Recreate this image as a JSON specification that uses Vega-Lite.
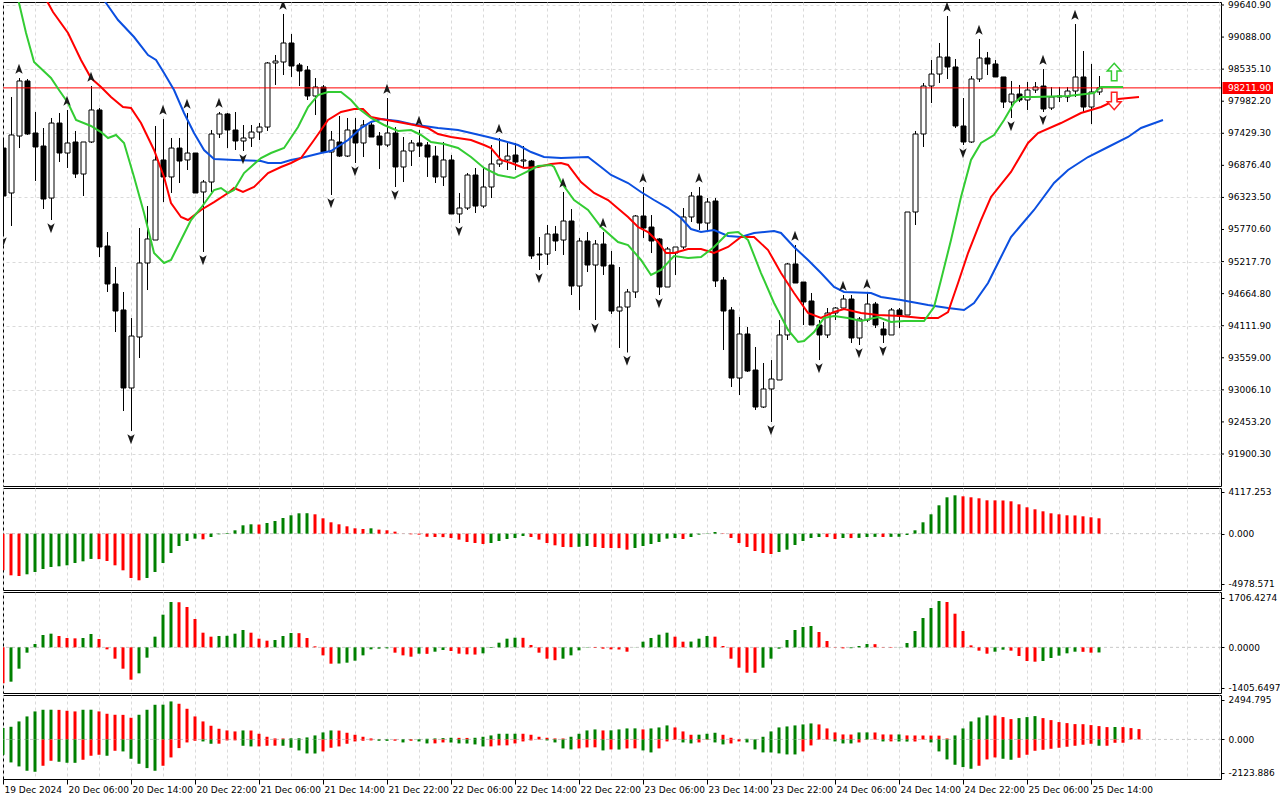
{
  "$schema": "https://vega.github.io/schema/vega-lite/v6.json",
  "background": "white",
  "padding": {"left": 2, "top": 0, "right": 0, "bottom": 0},
  "spacing": 0,
  "config": {
    "view": {"stroke": "black", "strokeWidth": 1},
    "axis": {"labelFont": "DejaVu Sans", "labelFontSize": 9, "labelColor": "#000000", "tickColor": "#000000", "domain": false, "gridColor": "#dadada", "gridDash": [3, 3], "labelOverlap": false},
    "text": {"font": "DejaVu Sans", "fontSize": 9}
  },
  "datasets": {
    "levels": [
      {"p":99640.9},{"p":99088},{"p":98535.1},{"p":97982.2},{"p":97429.3},{"p":96876.4},{"p":96323.5},{"p":95770.6},
      {"p":95217.7},{"p":94664.8},{"p":94111.9},{"p":93559},{"p":93006.1},{"p":92453.2},{"p":91900.3}
    ],
    "candles": [
      {"k":0,"o":97175,"h":97313,"l":95693,"c":96348},{"k":1,"o":96400,"h":98055,"l":95831,"c":97400},{"k":2,"o":97382,"h":98382,"l":97175,"c":98331},{"k":3,"o":98331,"h":98365,"l":97400,"c":97417},
      {"k":4,"o":97434,"h":97796,"l":96607,"c":97193},{"k":5,"o":97210,"h":97520,"l":96124,"c":96296},{"k":6,"o":96313,"h":97693,"l":95934,"c":97606},{"k":7,"o":97606,"h":97779,"l":96934,"c":97089},
      {"k":8,"o":97089,"h":97831,"l":96831,"c":97262},{"k":9,"o":97279,"h":97469,"l":96658,"c":96727},{"k":10,"o":96727,"h":97279,"l":96348,"c":97279},{"k":11,"o":97279,"h":98244,"l":97262,"c":97831},
      {"k":12,"o":97831,"h":97865,"l":95296,"c":95469},{"k":13,"o":95486,"h":95727,"l":94693,"c":94831},{"k":14,"o":94831,"h":95124,"l":94003,"c":94365},{"k":15,"o":94383,"h":94693,"l":92641,"c":93038},
      {"k":16,"o":93038,"h":94244,"l":92297,"c":93934},{"k":17,"o":93917,"h":95796,"l":93555,"c":95193},{"k":18,"o":95193,"h":96175,"l":94727,"c":95607},{"k":19,"o":95589,"h":97555,"l":95589,"c":96969},
      {"k":20,"o":96969,"h":97675,"l":96244,"c":96676},{"k":21,"o":96676,"h":97348,"l":96400,"c":97175},{"k":22,"o":97175,"h":97348,"l":96572,"c":96951},{"k":23,"o":96969,"h":97779,"l":96796,"c":97089},
      {"k":24,"o":97089,"h":97089,"l":96400,"c":96400},{"k":25,"o":96417,"h":96624,"l":95383,"c":96589},{"k":26,"o":96589,"h":97486,"l":96417,"c":97417},{"k":27,"o":97417,"h":97796,"l":97348,"c":97762},
      {"k":28,"o":97762,"h":97779,"l":97175,"c":97486},{"k":29,"o":97486,"h":97796,"l":97141,"c":97296},{"k":30,"o":97296,"h":97572,"l":97124,"c":97348},{"k":31,"o":97348,"h":97572,"l":97193,"c":97451},
      {"k":32,"o":97451,"h":97606,"l":97313,"c":97537},{"k":33,"o":97537,"h":98658,"l":97469,"c":98641},{"k":34,"o":98641,"h":98779,"l":98262,"c":98675},{"k":35,"o":98658,"h":99486,"l":98434,"c":98986},
      {"k":36,"o":98986,"h":99141,"l":98400,"c":98589},{"k":37,"o":98606,"h":98641,"l":98244,"c":98503},{"k":38,"o":98520,"h":98589,"l":98003,"c":98072},{"k":39,"o":98072,"h":98382,"l":97744,"c":98227},
      {"k":40,"o":98227,"h":98262,"l":97106,"c":97106},{"k":41,"o":97106,"h":97469,"l":96365,"c":97313},{"k":42,"o":97279,"h":97727,"l":97020,"c":97037},{"k":43,"o":97037,"h":97693,"l":97020,"c":97486},
      {"k":44,"o":97486,"h":97693,"l":96917,"c":97262},{"k":45,"o":97262,"h":97658,"l":97020,"c":97572},{"k":46,"o":97572,"h":97624,"l":97365,"c":97365},{"k":47,"o":97382,"h":97451,"l":96814,"c":97227},
      {"k":48,"o":97227,"h":98037,"l":97193,"c":97434},{"k":49,"o":97434,"h":97537,"l":96503,"c":96848},{"k":50,"o":96848,"h":97365,"l":96589,"c":97124},{"k":51,"o":97124,"h":97313,"l":96865,"c":97262},
      {"k":52,"o":97262,"h":97486,"l":97020,"c":97210},{"k":53,"o":97227,"h":97279,"l":96676,"c":97020},{"k":54,"o":97037,"h":97210,"l":96572,"c":96676},{"k":55,"o":96676,"h":97279,"l":96520,"c":96969},
      {"k":56,"o":96969,"h":97055,"l":96038,"c":96038},{"k":57,"o":96038,"h":96400,"l":95882,"c":96141},{"k":58,"o":96141,"h":96744,"l":96107,"c":96710},{"k":59,"o":96710,"h":96831,"l":96055,"c":96175},
      {"k":60,"o":96175,"h":96848,"l":96141,"c":96503},{"k":61,"o":96503,"h":97227,"l":96313,"c":96900},{"k":62,"o":96900,"h":97348,"l":96848,"c":96969},{"k":63,"o":96969,"h":97279,"l":96796,"c":97037},
      {"k":64,"o":97055,"h":97262,"l":96796,"c":96934},{"k":65,"o":96951,"h":97210,"l":96831,"c":96969},{"k":66,"o":96951,"h":96969,"l":95262,"c":95314},{"k":67,"o":95348,"h":95641,"l":95072,"c":95331},
      {"k":68,"o":95348,"h":95848,"l":95158,"c":95693},{"k":69,"o":95693,"h":95831,"l":95400,"c":95572},{"k":70,"o":95589,"h":96417,"l":95331,"c":95917},{"k":71,"o":95917,"h":96124,"l":94641,"c":94796},
      {"k":72,"o":94796,"h":95624,"l":94383,"c":95572},{"k":73,"o":95572,"h":95727,"l":95038,"c":95158},{"k":74,"o":95158,"h":95589,"l":94210,"c":95520},{"k":75,"o":95520,"h":95727,"l":94986,"c":95141},
      {"k":76,"o":95158,"h":95400,"l":94314,"c":94365},{"k":77,"o":94365,"h":95124,"l":93728,"c":94434},{"k":78,"o":94434,"h":94745,"l":93650,"c":94693},{"k":79,"o":94693,"h":96020,"l":94590,"c":96003},
      {"k":80,"o":96003,"h":96503,"l":95624,"c":95796},{"k":81,"o":95813,"h":96020,"l":95365,"c":95572},{"k":82,"o":95607,"h":95624,"l":94641,"c":94779},{"k":83,"o":94779,"h":95469,"l":94779,"c":95434},
      {"k":84,"o":95365,"h":95469,"l":94986,"c":95469},{"k":85,"o":95469,"h":96141,"l":95434,"c":95986},{"k":86,"o":95986,"h":96417,"l":95900,"c":96348},{"k":87,"o":96348,"h":96503,"l":95762,"c":95882},
      {"k":88,"o":95882,"h":96313,"l":95762,"c":96244},{"k":89,"o":96262,"h":96313,"l":94779,"c":94883},{"k":90,"o":94900,"h":94951,"l":93693,"c":94365},{"k":91,"o":94383,"h":94434,"l":93055,"c":93210},
      {"k":92,"o":93210,"h":94262,"l":92917,"c":93969},{"k":93,"o":93969,"h":94090,"l":93314,"c":93331},{"k":94,"o":93348,"h":93745,"l":92659,"c":92710},{"k":95,"o":92710,"h":93469,"l":92693,"c":93021},
      {"k":96,"o":93021,"h":93520,"l":92452,"c":93193},{"k":97,"o":93176,"h":94210,"l":93176,"c":93952},{"k":98,"o":93952,"h":95193,"l":93865,"c":95176},{"k":99,"o":95176,"h":95503,"l":94848,"c":94848},
      {"k":100,"o":94865,"h":94865,"l":94124,"c":94521},{"k":101,"o":94538,"h":94676,"l":94124,"c":94124},{"k":102,"o":94124,"h":94210,"l":93520,"c":93952},{"k":103,"o":93952,"h":94417,"l":93900,"c":94331},
      {"k":104,"o":94331,"h":94434,"l":94210,"c":94417},{"k":105,"o":94417,"h":94641,"l":94383,"c":94572},{"k":106,"o":94572,"h":94641,"l":93814,"c":93900},{"k":107,"o":93900,"h":94262,"l":93779,"c":94227},
      {"k":108,"o":94210,"h":94676,"l":94176,"c":94486},{"k":109,"o":94486,"h":94521,"l":94072,"c":94124},{"k":110,"o":94055,"h":94176,"l":93814,"c":93952},{"k":111,"o":93952,"h":94417,"l":93952,"c":94383},
      {"k":112,"o":94383,"h":94417,"l":94072,"c":94279},{"k":113,"o":94296,"h":96072,"l":94296,"c":96072},{"k":114,"o":96072,"h":97469,"l":95848,"c":97417},{"k":115,"o":97417,"h":98296,"l":97193,"c":98244},
      {"k":116,"o":98244,"h":98693,"l":97951,"c":98451},{"k":117,"o":98451,"h":98986,"l":98296,"c":98744},{"k":118,"o":98744,"h":99451,"l":98365,"c":98572},{"k":119,"o":98572,"h":98710,"l":97520,"c":97555},
      {"k":120,"o":97555,"h":98037,"l":97227,"c":97279},{"k":121,"o":97279,"h":98417,"l":97262,"c":98365},{"k":122,"o":98365,"h":99055,"l":98313,"c":98727},{"k":123,"o":98727,"h":98831,"l":98434,"c":98624},
      {"k":124,"o":98624,"h":98693,"l":98400,"c":98400},{"k":125,"o":98400,"h":98400,"l":97865,"c":97968},{"k":126,"o":97968,"h":98331,"l":97693,"c":98106},{"k":127,"o":98106,"h":98262,"l":97968,"c":98003},
      {"k":128,"o":98003,"h":98313,"l":97831,"c":98175},{"k":129,"o":98175,"h":98313,"l":98124,"c":98227},{"k":130,"o":98244,"h":98537,"l":97796,"c":97848},{"k":131,"o":97865,"h":98227,"l":97831,"c":98055},
      {"k":132,"o":98055,"h":98227,"l":97968,"c":98072},{"k":133,"o":98055,"h":98227,"l":97968,"c":98158},{"k":134,"o":98158,"h":99313,"l":98055,"c":98400},{"k":135,"o":98400,"h":98848,"l":97779,"c":97882},
      {"k":136,"o":97882,"h":98624,"l":97589,"c":98141},{"k":137,"o":98141,"h":98417,"l":98089,"c":98211.9}
    ],
    "jaw": [
      {"k":12,"v":99848},{"k":12.88,"v":99675},{"k":14.38,"v":99382},{"k":16.38,"v":99089},{"k":18.13,"v":98779},{"k":19.13,"v":98693},{"k":20.13,"v":98469},{"k":21.38,"v":98175},
      {"k":22.63,"v":97779},{"k":23.88,"v":97434},{"k":25.13,"v":97141},{"k":26.38,"v":96986},{"k":28.88,"v":96969},{"k":32.25,"v":96951},{"k":33.13,"v":96917},{"k":34.75,"v":96917},
      {"k":36,"v":96969},{"k":37.25,"v":97003},{"k":39.75,"v":97089},{"k":41,"v":97124},{"k":43.13,"v":97313},{"k":44.75,"v":97520},{"k":46,"v":97624},{"k":47.25,"v":97675},
      {"k":49.38,"v":97641},{"k":51,"v":97589},{"k":52.63,"v":97555},{"k":54.38,"v":97520},{"k":56.88,"v":97486},{"k":58.5,"v":97434},{"k":60.63,"v":97365},{"k":62.63,"v":97296},
      {"k":64.38,"v":97227},{"k":66,"v":97106},{"k":67.63,"v":97020},{"k":69.75,"v":97003},{"k":73.13,"v":97020},{"k":74.75,"v":96848},{"k":76,"v":96710},{"k":78.13,"v":96572},
      {"k":79.75,"v":96417},{"k":81.38,"v":96279},{"k":83.13,"v":96141},{"k":84.75,"v":95969},{"k":86,"v":95779},{"k":87.25,"v":95727},{"k":88.88,"v":95762},{"k":90.63,"v":95658},
      {"k":92.25,"v":95641},{"k":93.88,"v":95710},{"k":96.38,"v":95744},{"k":97.25,"v":95710},{"k":98.88,"v":95469},{"k":100.63,"v":95245},{"k":102.25,"v":95020},{"k":103.88,"v":94779},
      {"k":105.13,"v":94693},{"k":108.5,"v":94676},{"k":109.75,"v":94607},{"k":112.25,"v":94555},{"k":115.63,"v":94469},{"k":118.13,"v":94417},{"k":120.13,"v":94383},{"k":121.38,"v":94503},
      {"k":123.13,"v":94848},{"k":124.75,"v":95296},{"k":126,"v":95641},{"k":128.88,"v":96107},{"k":131.38,"v":96572},{"k":133.13,"v":96796},{"k":135.63,"v":97020},{"k":138.13,"v":97193},
      {"k":140.63,"v":97365},{"k":142.25,"v":97520},{"k":145,"v":97658}
    ],
    "teeth": [
      {"k":5.25,"v":99779},{"k":5.63,"v":99675},{"k":6.25,"v":99520},{"k":8.13,"v":99158},{"k":9.75,"v":98693},{"k":11,"v":98382},{"k":12.25,"v":98227},{"k":13.5,"v":98055},
      {"k":15,"v":97882},{"k":16,"v":97865},{"k":17.25,"v":97606},{"k":18.88,"v":97141},{"k":20.13,"v":96676},{"k":21,"v":96227},{"k":22.25,"v":95986},{"k":23.13,"v":95934},
      {"k":24.75,"v":96107},{"k":26.38,"v":96244},{"k":28.13,"v":96400},{"k":28.88,"v":96486},{"k":30,"v":96417},{"k":31.38,"v":96503},{"k":33.13,"v":96744},{"k":34.75,"v":96848},
      {"k":36,"v":96917},{"k":37.25,"v":97003},{"k":38.88,"v":97313},{"k":40.63,"v":97658},{"k":42.25,"v":97796},{"k":43.88,"v":97848},{"k":45,"v":97848},{"k":46,"v":97710},
      {"k":47.25,"v":97675},{"k":49.38,"v":97624},{"k":51.38,"v":97572},{"k":53.13,"v":97520},{"k":54.38,"v":97417},{"k":56,"v":97365},{"k":58.5,"v":97313},{"k":60.13,"v":97227},
      {"k":61,"v":97175},{"k":62.25,"v":96969},{"k":63.5,"v":96917},{"k":65.13,"v":96831},{"k":66.88,"v":96848},{"k":68.5,"v":96900},{"k":69.75,"v":96917},{"k":70.63,"v":96883},
      {"k":72.25,"v":96589},{"k":73.88,"v":96400},{"k":75.63,"v":96279},{"k":78.13,"v":95986},{"k":79.38,"v":95813},{"k":80.63,"v":95727},{"k":81.88,"v":95555},{"k":82.88,"v":95365},
      {"k":83.88,"v":95365},{"k":85.63,"v":95434},{"k":87.25,"v":95434},{"k":88.88,"v":95365},{"k":90.63,"v":95469},{"k":92.25,"v":95641},{"k":93.88,"v":95641},{"k":95.63,"v":95417},
      {"k":97.25,"v":95020},{"k":98.88,"v":94676},{"k":100.63,"v":94331},{"k":102.25,"v":94245},{"k":103.88,"v":94348},{"k":105.13,"v":94400},{"k":107.25,"v":94331},{"k":109.38,"v":94296},
      {"k":112.25,"v":94279},{"k":114.75,"v":94245},{"k":116.88,"v":94245},{"k":118.13,"v":94348},{"k":119.38,"v":94848},{"k":120.63,"v":95365},{"k":122.25,"v":95934},{"k":123.5,"v":96331},
      {"k":126,"v":96762},{"k":128.13,"v":97262},{"k":129.38,"v":97434},{"k":132.25,"v":97606},{"k":134.75,"v":97779},{"k":137.25,"v":97882},{"k":139.38,"v":98020},{"k":142,"v":98055}
    ],
    "lips": [
      {"k":1.88,"v":99762},{"k":2,"v":99675},{"k":2.88,"v":99158},{"k":3.88,"v":98658},{"k":6,"v":98382},{"k":7,"v":98175},{"k":8.13,"v":97951},{"k":9.13,"v":97658},
      {"k":11,"v":97555},{"k":12.25,"v":97451},{"k":13.13,"v":97348},{"k":14.13,"v":97400},{"k":15.13,"v":97262},{"k":16.38,"v":96676},{"k":17.63,"v":96055},{"k":18.88,"v":95365},
      {"k":20.13,"v":95193},{"k":21,"v":95245},{"k":22.25,"v":95589},{"k":23.5,"v":95934},{"k":24.75,"v":96141},{"k":26.38,"v":96451},{"k":27.25,"v":96486},{"k":28.13,"v":96400},
      {"k":28.88,"v":96451},{"k":30.13,"v":96744},{"k":32.25,"v":97003},{"k":33.5,"v":97089},{"k":35.13,"v":97175},{"k":36.88,"v":97537},{"k":38.13,"v":97882},{"k":39.38,"v":98089},
      {"k":40.63,"v":98141},{"k":42.25,"v":98141},{"k":43.5,"v":98003},{"k":44.38,"v":97865},{"k":46,"v":97693},{"k":47.63,"v":97572},{"k":49.38,"v":97469},{"k":51,"v":97486},
      {"k":52.25,"v":97400},{"k":53.5,"v":97279},{"k":55.13,"v":97244},{"k":56.88,"v":97175},{"k":58.5,"v":97020},{"k":60.13,"v":96831},{"k":61.88,"v":96710},{"k":63.88,"v":96658},
      {"k":65.13,"v":96744},{"k":66.88,"v":96865},{"k":68.5,"v":96883},{"k":68.88,"v":96848},{"k":69.75,"v":96589},{"k":71.38,"v":96279},{"k":73.13,"v":96107},{"k":74.75,"v":95813},
      {"k":76.88,"v":95555},{"k":78.13,"v":95503},{"k":79.75,"v":95245},{"k":81,"v":94986},{"k":82.25,"v":95072},{"k":83.88,"v":95314},{"k":85.63,"v":95279},{"k":87.25,"v":95296},
      {"k":88.88,"v":95469},{"k":90.63,"v":95710},{"k":91.88,"v":95727},{"k":93.13,"v":95589},{"k":94.75,"v":95020},{"k":96.38,"v":94503},{"k":98.13,"v":94038},{"k":99.38,"v":93831},
      {"k":100.13,"v":93848},{"k":101.38,"v":94003},{"k":102.63,"v":94245},{"k":103.88,"v":94279},{"k":105.63,"v":94245},{"k":107.25,"v":94193},{"k":109.38,"v":94262},{"k":111,"v":94176},
      {"k":112.63,"v":94193},{"k":115.13,"v":94193},{"k":116.38,"v":94434},{"k":117.25,"v":94900},{"k":118.5,"v":95589},{"k":119.75,"v":96331},{"k":121,"v":96969},{"k":122.25,"v":97262},
      {"k":123.88,"v":97400},{"k":125.13,"v":97658},{"k":126.38,"v":97951},{"k":127.25,"v":98055},{"k":128.88,"v":98055},{"k":133.13,"v":98072},{"k":136.38,"v":98124},{"k":137.25,"v":98227},
      {"k":140,"v":98227}
    ],
    "fractals": [
      {"k":2,"p":98382,"t":"up"},{"k":8,"p":97831,"t":"up"},{"k":11,"p":98244,"t":"up"},{"k":20,"p":97675,"t":"up"},{"k":23,"p":97779,"t":"up"},{"k":27,"p":97796,"t":"up"},
      {"k":35,"p":99486,"t":"up"},{"k":48,"p":98037,"t":"up"},{"k":52,"p":97486,"t":"up"},{"k":62,"p":97348,"t":"up"},{"k":70,"p":96417,"t":"up"},{"k":75,"p":95727,"t":"up"},
      {"k":80,"p":96503,"t":"up"},{"k":87,"p":96503,"t":"up"},{"k":99,"p":95503,"t":"up"},{"k":105,"p":94641,"t":"up"},{"k":108,"p":94676,"t":"up"},{"k":118,"p":99451,"t":"up"},
      {"k":122,"p":99055,"t":"up"},{"k":130,"p":98537,"t":"up"},{"k":134,"p":99313,"t":"up"},
      {"k":0,"p":95693,"t":"down"},{"k":6,"p":95934,"t":"down"},{"k":16,"p":92297,"t":"down"},{"k":25,"p":95383,"t":"down"},{"k":30,"p":97124,"t":"down"},{"k":41,"p":96365,"t":"down"},
      {"k":44,"p":96917,"t":"down"},{"k":49,"p":96503,"t":"down"},{"k":57,"p":95882,"t":"down"},{"k":67,"p":95072,"t":"down"},{"k":74,"p":94210,"t":"down"},{"k":78,"p":93650,"t":"down"},
      {"k":82,"p":94641,"t":"down"},{"k":96,"p":92452,"t":"down"},{"k":102,"p":93520,"t":"down"},{"k":107,"p":93779,"t":"down"},{"k":110,"p":93814,"t":"down"},{"k":120,"p":97227,"t":"down"},
      {"k":126,"p":97693,"t":"down"},{"k":130,"p":97796,"t":"down"}
    ],
    "signals": [
      {"k":138.9,"p":98486,"t":"up"},
      {"k":138.9,"p":97986,"t":"down"}
    ],
    "ao": [
      {"k":0,"v":-3626,"d":"d"},{"k":1,"v":-4120,"d":"d"},{"k":2,"v":-4186,"d":"d"},{"k":3,"v":-4021,"d":"u"},{"k":4,"v":-3790,"d":"u"},{"k":5,"v":-3494,"d":"u"},{"k":6,"v":-3296,"d":"u"},{"k":7,"v":-3230,"d":"u"},
      {"k":8,"v":-3131,"d":"u"},{"k":9,"v":-2900,"d":"u"},{"k":10,"v":-2736,"d":"u"},{"k":11,"v":-2500,"d":"u"},{"k":12,"v":-2520,"d":"d"},{"k":13,"v":-2703,"d":"d"},{"k":14,"v":-3131,"d":"d"},{"k":15,"v":-3626,"d":"d"},
      {"k":16,"v":-4384,"d":"d"},{"k":17,"v":-4614,"d":"d"},{"k":18,"v":-4384,"d":"u"},{"k":19,"v":-3790,"d":"u"},{"k":20,"v":-2900,"d":"u"},{"k":21,"v":-1912,"d":"u"},{"k":22,"v":-1220,"d":"u"},{"k":23,"v":-725,"d":"u"},
      {"k":24,"v":-494,"d":"u"},{"k":25,"v":-560,"d":"d"},{"k":26,"v":-330,"d":"u"},{"k":27,"v":-66,"d":"u"},{"k":28,"v":66,"d":"u"},{"k":29,"v":330,"d":"u"},{"k":30,"v":824,"d":"u"},{"k":31,"v":923,"d":"u"},
      {"k":32,"v":900,"d":"d"},{"k":33,"v":1055,"d":"u"},{"k":34,"v":1252,"d":"u"},{"k":35,"v":1549,"d":"u"},{"k":36,"v":1813,"d":"u"},{"k":37,"v":2011,"d":"u"},{"k":38,"v":2020,"d":"u"},{"k":39,"v":1912,"d":"d"},
      {"k":40,"v":1516,"d":"d"},{"k":41,"v":1121,"d":"d"},{"k":42,"v":923,"d":"d"},{"k":43,"v":725,"d":"d"},{"k":44,"v":527,"d":"d"},{"k":45,"v":461,"d":"d"},{"k":46,"v":527,"d":"u"},{"k":47,"v":396,"d":"d"},
      {"k":48,"v":330,"d":"d"},{"k":49,"v":198,"d":"d"},{"k":50,"v":-10,"d":"d"},{"k":51,"v":-66,"d":"d"},{"k":52,"v":-100,"d":"d"},{"k":53,"v":-310,"d":"d"},{"k":54,"v":-330,"d":"d"},{"k":55,"v":-345,"d":"d"},
      {"k":56,"v":-430,"d":"d"},{"k":57,"v":-593,"d":"d"},{"k":58,"v":-824,"d":"d"},{"k":59,"v":-923,"d":"d"},{"k":60,"v":-1022,"d":"d"},{"k":61,"v":-923,"d":"u"},{"k":62,"v":-725,"d":"u"},{"k":63,"v":-527,"d":"u"},
      {"k":64,"v":-430,"d":"u"},{"k":65,"v":-231,"d":"u"},{"k":66,"v":-330,"d":"d"},{"k":67,"v":-593,"d":"d"},{"k":68,"v":-923,"d":"d"},{"k":69,"v":-1154,"d":"d"},{"k":70,"v":-1318,"d":"d"},{"k":71,"v":-1330,"d":"d"},
      {"k":72,"v":-1300,"d":"u"},{"k":73,"v":-1220,"d":"u"},{"k":74,"v":-1318,"d":"d"},{"k":75,"v":-1417,"d":"d"},{"k":76,"v":-1420,"d":"d"},{"k":77,"v":-1430,"d":"d"},{"k":78,"v":-1582,"d":"d"},{"k":79,"v":-1417,"d":"u"},
      {"k":80,"v":-1220,"d":"u"},{"k":81,"v":-1022,"d":"u"},{"k":82,"v":-824,"d":"u"},{"k":83,"v":-494,"d":"u"},{"k":84,"v":-430,"d":"u"},{"k":85,"v":-527,"d":"d"},{"k":86,"v":-330,"d":"u"},{"k":87,"v":-99,"d":"u"},
      {"k":88,"v":-33,"d":"u"},{"k":89,"v":165,"d":"u"},{"k":90,"v":-33,"d":"d"},{"k":91,"v":-430,"d":"d"},{"k":92,"v":-923,"d":"d"},{"k":93,"v":-1318,"d":"d"},{"k":94,"v":-1714,"d":"d"},{"k":95,"v":-1912,"d":"d"},
      {"k":96,"v":-2011,"d":"d"},{"k":97,"v":-1813,"d":"u"},{"k":98,"v":-1582,"d":"u"},{"k":99,"v":-1121,"d":"u"},{"k":100,"v":-725,"d":"u"},{"k":101,"v":-430,"d":"u"},{"k":102,"v":-330,"d":"u"},{"k":103,"v":-340,"d":"d"},
      {"k":104,"v":-527,"d":"d"},{"k":105,"v":-430,"d":"u"},{"k":106,"v":-440,"d":"d"},{"k":107,"v":-420,"d":"u"},{"k":108,"v":-330,"d":"u"},{"k":109,"v":-320,"d":"u"},{"k":110,"v":-330,"d":"d"},{"k":111,"v":-320,"d":"u"},
      {"k":112,"v":-310,"d":"u"},{"k":113,"v":-132,"d":"u"},{"k":114,"v":330,"d":"u"},{"k":115,"v":1121,"d":"u"},{"k":116,"v":1912,"d":"u"},{"k":117,"v":2802,"d":"u"},{"k":118,"v":3593,"d":"u"},{"k":119,"v":3790,"d":"u"},
      {"k":120,"v":3691,"d":"d"},{"k":121,"v":3593,"d":"d"},{"k":122,"v":3494,"d":"d"},{"k":123,"v":3296,"d":"d"},{"k":124,"v":3290,"d":"d"},{"k":125,"v":3280,"d":"d"},{"k":126,"v":3197,"d":"d"},{"k":127,"v":2900,"d":"d"},
      {"k":128,"v":2604,"d":"d"},{"k":129,"v":2406,"d":"d"},{"k":130,"v":2208,"d":"d"},{"k":131,"v":2011,"d":"d"},{"k":132,"v":1912,"d":"d"},{"k":133,"v":1813,"d":"d"},{"k":134,"v":1800,"d":"d"},{"k":135,"v":1714,"d":"d"},
      {"k":136,"v":1615,"d":"d"},{"k":137,"v":1516,"d":"d"}
    ],
    "ac": [
      {"k":0,"v":-1245,"d":"d"},{"k":1,"v":-1187,"d":"u"},{"k":2,"v":-738,"d":"u"},{"k":3,"v":-184,"d":"u"},{"k":4,"v":115,"d":"u"},{"k":5,"v":427,"d":"u"},{"k":6,"v":473,"d":"u"},{"k":7,"v":392,"d":"d"},
      {"k":8,"v":323,"d":"d"},{"k":9,"v":311,"d":"d"},{"k":10,"v":323,"d":"u"},{"k":11,"v":461,"d":"u"},{"k":12,"v":288,"d":"d"},{"k":13,"v":-69,"d":"d"},{"k":14,"v":-392,"d":"d"},{"k":15,"v":-738,"d":"d"},
      {"k":16,"v":-1118,"d":"d"},{"k":17,"v":-899,"d":"u"},{"k":18,"v":-357,"d":"u"},{"k":19,"v":369,"d":"u"},{"k":20,"v":1130,"d":"u"},{"k":21,"v":1568,"d":"u"},{"k":22,"v":1560,"d":"d"},{"k":23,"v":1395,"d":"d"},
      {"k":24,"v":980,"d":"d"},{"k":25,"v":507,"d":"d"},{"k":26,"v":369,"d":"d"},{"k":27,"v":392,"d":"u"},{"k":28,"v":400,"d":"u"},{"k":29,"v":473,"d":"u"},{"k":30,"v":600,"d":"u"},{"k":31,"v":507,"d":"d"},
      {"k":32,"v":300,"d":"d"},{"k":33,"v":231,"d":"d"},{"k":34,"v":254,"d":"u"},{"k":35,"v":392,"d":"u"},{"k":36,"v":496,"d":"u"},{"k":37,"v":490,"d":"d"},{"k":38,"v":323,"d":"d"},{"k":39,"v":35,"d":"d"},
      {"k":40,"v":-277,"d":"d"},{"k":41,"v":-565,"d":"d"},{"k":42,"v":-560,"d":"u"},{"k":43,"v":-530,"d":"u"},{"k":44,"v":-461,"d":"u"},{"k":45,"v":-277,"d":"u"},{"k":46,"v":-69,"d":"u"},{"k":47,"v":-46,"d":"u"},
      {"k":48,"v":-35,"d":"u"},{"k":49,"v":-184,"d":"d"},{"k":50,"v":-277,"d":"d"},{"k":51,"v":-323,"d":"d"},{"k":52,"v":-219,"d":"u"},{"k":53,"v":-225,"d":"d"},{"k":54,"v":-150,"d":"u"},{"k":55,"v":-92,"d":"u"},
      {"k":56,"v":-127,"d":"d"},{"k":57,"v":-219,"d":"d"},{"k":58,"v":-242,"d":"d"},{"k":59,"v":-250,"d":"d"},{"k":60,"v":-207,"d":"u"},{"k":61,"v":-23,"d":"u"},{"k":62,"v":161,"d":"u"},{"k":63,"v":300,"d":"u"},
      {"k":64,"v":334,"d":"u"},{"k":65,"v":330,"d":"d"},{"k":66,"v":81,"d":"d"},{"k":67,"v":-184,"d":"d"},{"k":68,"v":-392,"d":"d"},{"k":69,"v":-445,"d":"d"},{"k":70,"v":-392,"d":"u"},{"k":71,"v":-277,"d":"u"},
      {"k":72,"v":-104,"d":"u"},{"k":73,"v":-12,"d":"u"},{"k":74,"v":-20,"d":"d"},{"k":75,"v":-46,"d":"d"},{"k":76,"v":-69,"d":"d"},{"k":77,"v":-75,"d":"d"},{"k":78,"v":-150,"d":"d"},{"k":79,"v":5,"d":"u"},
      {"k":80,"v":196,"d":"u"},{"k":81,"v":323,"d":"u"},{"k":82,"v":438,"d":"u"},{"k":83,"v":507,"d":"u"},{"k":84,"v":369,"d":"d"},{"k":85,"v":196,"d":"d"},{"k":86,"v":200,"d":"u"},{"k":87,"v":300,"d":"u"},
      {"k":88,"v":392,"d":"u"},{"k":89,"v":369,"d":"d"},{"k":90,"v":46,"d":"d"},{"k":91,"v":-392,"d":"d"},{"k":92,"v":-703,"d":"d"},{"k":93,"v":-876,"d":"d"},{"k":94,"v":-880,"d":"d"},{"k":95,"v":-703,"d":"u"},
      {"k":96,"v":-392,"d":"u"},{"k":97,"v":-46,"d":"u"},{"k":98,"v":254,"d":"u"},{"k":99,"v":600,"d":"u"},{"k":100,"v":703,"d":"u"},{"k":101,"v":738,"d":"u"},{"k":102,"v":530,"d":"d"},{"k":103,"v":219,"d":"d"},
      {"k":104,"v":-10,"d":"d"},{"k":105,"v":-35,"d":"d"},{"k":106,"v":-30,"d":"u"},{"k":107,"v":46,"d":"u"},{"k":108,"v":115,"d":"u"},{"k":109,"v":110,"d":"d"},{"k":110,"v":-10,"d":"d"},{"k":111,"v":-15,"d":"d"},
      {"k":112,"v":5,"d":"u"},{"k":113,"v":150,"d":"u"},{"k":114,"v":565,"d":"u"},{"k":115,"v":1015,"d":"u"},{"k":116,"v":1360,"d":"u"},{"k":117,"v":1602,"d":"u"},{"k":118,"v":1568,"d":"d"},{"k":119,"v":1164,"d":"d"},
      {"k":120,"v":565,"d":"d"},{"k":121,"v":69,"d":"d"},{"k":122,"v":-115,"d":"d"},{"k":123,"v":-219,"d":"d"},{"k":124,"v":-150,"d":"u"},{"k":125,"v":-81,"d":"u"},{"k":126,"v":-115,"d":"d"},{"k":127,"v":-300,"d":"d"},
      {"k":128,"v":-473,"d":"d"},{"k":129,"v":-496,"d":"d"},{"k":130,"v":-473,"d":"u"},{"k":131,"v":-369,"d":"u"},{"k":132,"v":-288,"d":"u"},{"k":133,"v":-207,"d":"u"},{"k":134,"v":-150,"d":"u"},{"k":135,"v":-155,"d":"d"},
      {"k":136,"v":-184,"d":"d"},{"k":137,"v":-177,"d":"u"}
    ],
    "gator": [
      {"k":0,"u":717,"uc":"u","l":-970,"lc":"u"},{"k":1,"u":801,"uc":"u","l":-1455,"lc":"u"},{"k":2,"u":1139,"uc":"u","l":-1708,"lc":"u"},{"k":3,"u":1455,"uc":"u","l":-1982,"lc":"u"},
      {"k":4,"u":1772,"uc":"u","l":-2046,"lc":"u"},{"k":5,"u":1877,"uc":"u","l":-1666,"lc":"d"},{"k":6,"u":1880,"uc":"u","l":-1350,"lc":"d"},{"k":7,"u":1870,"uc":"d","l":-1413,"lc":"u"},
      {"k":8,"u":1814,"uc":"d","l":-1476,"lc":"u"},{"k":9,"u":1772,"uc":"d","l":-1480,"lc":"u"},{"k":10,"u":1877,"uc":"u","l":-1286,"lc":"d"},{"k":11,"u":1880,"uc":"u","l":-1033,"lc":"d"},
      {"k":12,"u":1772,"uc":"d","l":-970,"lc":"d"},{"k":13,"u":1624,"uc":"d","l":-1033,"lc":"u"},{"k":14,"u":1561,"uc":"d","l":-717,"lc":"d"},{"k":15,"u":1555,"uc":"d","l":-759,"lc":"u"},
      {"k":16,"u":1371,"uc":"d","l":-1223,"lc":"u"},{"k":17,"u":1561,"uc":"u","l":-1540,"lc":"u"},{"k":18,"u":1877,"uc":"u","l":-1814,"lc":"u"},{"k":19,"u":2193,"uc":"u","l":-1982,"lc":"u"},
      {"k":20,"u":2200,"uc":"u","l":-1666,"lc":"d"},{"k":21,"u":2404,"uc":"u","l":-1139,"lc":"d"},{"k":22,"u":2257,"uc":"d","l":-548,"lc":"d"},{"k":23,"u":1940,"uc":"d","l":-190,"lc":"d"},
      {"k":24,"u":1455,"uc":"d","l":-84,"lc":"d"},{"k":25,"u":1139,"uc":"d","l":-127,"lc":"u"},{"k":26,"u":865,"uc":"d","l":-274,"lc":"u"},{"k":27,"u":675,"uc":"d","l":-270,"lc":"d"},
      {"k":28,"u":569,"uc":"d","l":-63,"lc":"d"},{"k":29,"u":506,"uc":"d","l":-60,"lc":"d"},{"k":30,"u":569,"uc":"u","l":-401,"lc":"u"},{"k":31,"u":565,"uc":"d","l":-443,"lc":"u"},
      {"k":32,"u":359,"uc":"d","l":-440,"lc":"d"},{"k":33,"u":169,"uc":"d","l":-401,"lc":"d"},{"k":34,"u":63,"uc":"d","l":-395,"lc":"d"},{"k":35,"u":60,"uc":"d","l":-400,"lc":"u"},
      {"k":36,"u":70,"uc":"u","l":-527,"lc":"u"},{"k":37,"u":75,"uc":"u","l":-696,"lc":"u"},{"k":38,"u":127,"uc":"u","l":-886,"lc":"u"},{"k":39,"u":253,"uc":"u","l":-890,"lc":"u"},
      {"k":40,"u":443,"uc":"u","l":-759,"lc":"d"},{"k":41,"u":569,"uc":"u","l":-527,"lc":"d"},{"k":42,"u":560,"uc":"d","l":-443,"lc":"d"},{"k":43,"u":422,"uc":"d","l":-274,"lc":"d"},
      {"k":44,"u":295,"uc":"d","l":-127,"lc":"d"},{"k":45,"u":169,"uc":"d","l":-84,"lc":"d"},{"k":46,"u":63,"uc":"d","l":-63,"lc":"d"},{"k":47,"u":10,"uc":"d","l":-84,"lc":"u"},
      {"k":48,"u":10,"uc":"u","l":-90,"lc":"u"},{"k":49,"u":8,"uc":"d","l":-80,"lc":"d"},{"k":50,"u":12,"uc":"u","l":-190,"lc":"u"},{"k":51,"u":21,"uc":"u","l":-84,"lc":"d"},
      {"k":52,"u":21,"uc":"u","l":-127,"lc":"u"},{"k":53,"u":42,"uc":"u","l":-253,"lc":"u"},{"k":54,"u":63,"uc":"u","l":-250,"lc":"d"},{"k":55,"u":84,"uc":"u","l":-190,"lc":"d"},
      {"k":56,"u":105,"uc":"u","l":-195,"lc":"u"},{"k":57,"u":100,"uc":"d","l":-253,"lc":"u"},{"k":58,"u":95,"uc":"d","l":-260,"lc":"u"},{"k":59,"u":105,"uc":"u","l":-316,"lc":"u"},
      {"k":60,"u":169,"uc":"u","l":-443,"lc":"u"},{"k":61,"u":253,"uc":"u","l":-440,"lc":"d"},{"k":62,"u":359,"uc":"u","l":-380,"lc":"d"},{"k":63,"u":360,"uc":"u","l":-375,"lc":"d"},
      {"k":64,"u":362,"uc":"u","l":-253,"lc":"d"},{"k":65,"u":359,"uc":"d","l":-127,"lc":"d"},{"k":66,"u":295,"uc":"d","l":-63,"lc":"d"},{"k":67,"u":169,"uc":"d","l":-10,"lc":"d"},
      {"k":68,"u":105,"uc":"d","l":-63,"lc":"u"},{"k":69,"u":63,"uc":"d","l":-190,"lc":"u"},{"k":70,"u":60,"uc":"d","l":-569,"lc":"u"},{"k":71,"u":169,"uc":"u","l":-633,"lc":"u"},
      {"k":72,"u":359,"uc":"u","l":-569,"lc":"d"},{"k":73,"u":569,"uc":"u","l":-506,"lc":"d"},{"k":74,"u":633,"uc":"u","l":-500,"lc":"d"},{"k":75,"u":569,"uc":"d","l":-696,"lc":"u"},
      {"k":76,"u":575,"uc":"u","l":-633,"lc":"d"},{"k":77,"u":633,"uc":"u","l":-640,"lc":"u"},{"k":78,"u":696,"uc":"u","l":-569,"lc":"d"},{"k":79,"u":700,"uc":"u","l":-565,"lc":"d"},
      {"k":80,"u":633,"uc":"d","l":-696,"lc":"u"},{"k":81,"u":696,"uc":"u","l":-822,"lc":"u"},{"k":82,"u":759,"uc":"u","l":-569,"lc":"d"},{"k":83,"u":886,"uc":"u","l":-127,"lc":"d"},
      {"k":84,"u":759,"uc":"d","l":-10,"lc":"d"},{"k":85,"u":506,"uc":"d","l":-190,"lc":"u"},{"k":86,"u":295,"uc":"d","l":-253,"lc":"u"},{"k":87,"u":300,"uc":"u","l":-190,"lc":"d"},
      {"k":88,"u":359,"uc":"u","l":-20,"lc":"d"},{"k":89,"u":422,"uc":"u","l":-190,"lc":"u"},{"k":90,"u":295,"uc":"d","l":-316,"lc":"u"},{"k":91,"u":105,"uc":"d","l":-253,"lc":"d"},
      {"k":92,"u":10,"uc":"d","l":-127,"lc":"d"},{"k":93,"u":42,"uc":"u","l":-190,"lc":"u"},{"k":94,"u":5,"uc":"u","l":-633,"lc":"u"},{"k":95,"u":169,"uc":"u","l":-822,"lc":"u"},
      {"k":96,"u":506,"uc":"u","l":-825,"lc":"u"},{"k":97,"u":759,"uc":"u","l":-886,"lc":"u"},{"k":98,"u":822,"uc":"u","l":-949,"lc":"u"},{"k":99,"u":886,"uc":"u","l":-950,"lc":"u"},
      {"k":100,"u":949,"uc":"u","l":-759,"lc":"d"},{"k":101,"u":1012,"uc":"u","l":-380,"lc":"d"},{"k":102,"u":949,"uc":"d","l":-10,"lc":"d"},{"k":103,"u":696,"uc":"d","l":-10,"lc":"d"},
      {"k":104,"u":443,"uc":"d","l":-127,"lc":"u"},{"k":105,"u":316,"uc":"d","l":-253,"lc":"u"},{"k":106,"u":310,"uc":"d","l":-255,"lc":"u"},{"k":107,"u":443,"uc":"u","l":-190,"lc":"d"},
      {"k":108,"u":445,"uc":"u","l":-10,"lc":"d"},{"k":109,"u":440,"uc":"d","l":-10,"lc":"d"},{"k":110,"u":316,"uc":"d","l":-127,"lc":"u"},{"k":111,"u":310,"uc":"d","l":-125,"lc":"d"},
      {"k":112,"u":316,"uc":"u","l":-130,"lc":"u"},{"k":113,"u":253,"uc":"d","l":-135,"lc":"u"},{"k":114,"u":250,"uc":"d","l":-130,"lc":"d"},{"k":115,"u":248,"uc":"d","l":-10,"lc":"d"},
      {"k":116,"u":245,"uc":"d","l":-190,"lc":"u"},{"k":117,"u":240,"uc":"d","l":-759,"lc":"u"},{"k":118,"u":63,"uc":"d","l":-1265,"lc":"u"},{"k":119,"u":253,"uc":"u","l":-1603,"lc":"u"},
      {"k":120,"u":696,"uc":"u","l":-1750,"lc":"u"},{"k":121,"u":1139,"uc":"u","l":-1856,"lc":"u"},{"k":122,"u":1392,"uc":"u","l":-1666,"lc":"d"},{"k":123,"u":1518,"uc":"u","l":-1265,"lc":"d"},
      {"k":124,"u":1510,"uc":"d","l":-1139,"lc":"d"},{"k":125,"u":1413,"uc":"d","l":-1223,"lc":"u"},{"k":126,"u":1286,"uc":"d","l":-1286,"lc":"u"},{"k":127,"u":1350,"uc":"u","l":-1160,"lc":"d"},
      {"k":128,"u":1413,"uc":"u","l":-970,"lc":"d"},{"k":129,"u":1476,"uc":"u","l":-717,"lc":"d"},{"k":130,"u":1350,"uc":"d","l":-654,"lc":"d"},{"k":131,"u":1223,"uc":"d","l":-591,"lc":"d"},
      {"k":132,"u":1097,"uc":"d","l":-527,"lc":"d"},{"k":133,"u":1033,"uc":"d","l":-464,"lc":"d"},{"k":134,"u":970,"uc":"d","l":-401,"lc":"d"},{"k":135,"u":965,"uc":"d","l":-337,"lc":"d"},
      {"k":136,"u":907,"uc":"d","l":-274,"lc":"d"},{"k":137,"u":844,"uc":"d","l":-401,"lc":"u"},{"k":138,"u":780,"uc":"d","l":-400,"lc":"d"},{"k":139,"u":785,"uc":"u","l":-211,"lc":"d"},
      {"k":140,"u":780,"uc":"d","l":-210,"lc":"d"},{"k":141,"u":717,"uc":"d","l":0,"lc":"d"},{"k":142,"u":654,"uc":"d","l":0,"lc":"d"}
    ]
  },
  "vconcat": [
    {
      "hconcat": [
        {
          "width": 1218,
          "height": 484,
          "encoding": {
            "x": {
              "field": "k", "type": "quantitative", "title": null,
              "scale": {"domain": [0, 152.25], "nice": false, "zero": false, "padding": 0},
              "axis": {"values": [0,4,8,12,16,20,24,28,32,36,40,44,48,52,56,60,64,68,72,76,80,84,88,92,96,100,104,108,112,116,120,124,128,132,136,140,144,148,152], "grid": true, "labels": false, "ticks": false, "domain": false, "title": null}
            }
          },
          "layer": [
            {
              "data": {"name": "candles"},
              "mark": {"type": "rule", "color": "black", "strokeWidth": 1, "xOffset": 0.5, "clip": true},
              "encoding": {
                "y": {
                  "field": "l", "type": "quantitative", "title": null,
                  "scale": {"domain": [91348.4, 99692.6], "nice": false, "zero": false, "padding": 0},
                  "axis": {"orient": "right", "values": [99640.9, 99088, 98535.1, 97982.2, 97429.3, 96876.4, 96323.5, 95770.6, 95217.7, 94664.8, 94111.9, 93559, 93006.1, 92453.2, 91900.3], "labels": false, "grid": true, "ticks": false, "title": null}
                },
                "y2": {"field": "h"}
              }
            },
            {
              "data": {"name": "candles"},
              "mark": {"type": "bar", "width": 5, "stroke": "black", "strokeWidth": 1, "xOffset": 0.5, "clip": true},
              "encoding": {
                "y": {"field": "o", "type": "quantitative"},
                "y2": {"field": "c"},
                "fill": {"condition": {"test": "datum.c > datum.o", "value": "white"}, "value": "black"}
              }
            },
            {
              "data": {"values": [{"p": 98211.9}]},
              "mark": {"type": "rule", "color": "#ff0000", "strokeWidth": 1},
              "encoding": {"x": null, "y": {"field": "p", "type": "quantitative"}}
            },
            {
              "data": {"name": "jaw"},
              "mark": {"type": "line", "color": "#0b4fe0", "strokeWidth": 2, "clip": true},
              "encoding": {"y": {"field": "v", "type": "quantitative"}}
            },
            {
              "data": {"name": "teeth"},
              "mark": {"type": "line", "color": "#ff0000", "strokeWidth": 2, "clip": true},
              "encoding": {"y": {"field": "v", "type": "quantitative"}}
            },
            {
              "data": {"name": "lips"},
              "mark": {"type": "line", "color": "#33cc33", "strokeWidth": 2, "clip": true},
              "encoding": {"y": {"field": "v", "type": "quantitative"}}
            },
            {
              "data": {"name": "fractals"},
              "transform": [{"filter": "datum.t === 'up'"}],
              "mark": {"type": "point", "shape": "M0,-1L0.7,0.9L0,0.45L-0.7,0.9Z", "filled": true, "color": "#1a1a1a", "opacity": 1, "size": 110, "yOffset": -9, "clip": true},
              "encoding": {"y": {"field": "p", "type": "quantitative"}}
            },
            {
              "data": {"name": "fractals"},
              "transform": [{"filter": "datum.t === 'down'"}],
              "mark": {"type": "point", "shape": "M0,1L0.7,-0.9L0,-0.45L-0.7,-0.9Z", "filled": true, "color": "#1a1a1a", "opacity": 1, "size": 110, "yOffset": 8, "clip": true},
              "encoding": {"y": {"field": "p", "type": "quantitative"}}
            },
            {
              "data": {"name": "signals"},
              "transform": [{"filter": "datum.t === 'up'"}],
              "mark": {"type": "point", "shape": "M0,-1L0.8,-0.1L0.32,-0.1L0.32,1L-0.32,1L-0.32,-0.1L-0.8,-0.1Z", "filled": true, "fill": "white", "stroke": "#33cc33", "strokeWidth": 1.5, "opacity": 1, "size": 300},
              "encoding": {"y": {"field": "p", "type": "quantitative"}}
            },
            {
              "data": {"name": "signals"},
              "transform": [{"filter": "datum.t === 'down'"}],
              "mark": {"type": "point", "shape": "M0,1L0.8,0.1L0.32,0.1L0.32,-1L-0.32,-1L-0.32,0.1L-0.8,0.1Z", "filled": true, "fill": "white", "stroke": "#ff2020", "strokeWidth": 1.5, "opacity": 1, "size": 300},
              "encoding": {"y": {"field": "p", "type": "quantitative"}}
            }
          ]
        },
        {
          "width": 58,
          "height": 484,
          "view": {"stroke": null},
          "encoding": {
            "x": {"datum": 0, "type": "quantitative", "scale": {"domain": [0, 58], "nice": false, "zero": false, "padding": 0}, "axis": null}
          },
          "layer": [
            {
              "data": {"name": "levels"},
              "mark": {"type": "rule", "color": "black", "strokeWidth": 1},
              "encoding": {
                "x2": {"datum": 3},
                "y": {"field": "p", "type": "quantitative", "axis": null}
              }
            },
            {
              "data": {"name": "levels"},
              "mark": {"type": "text", "align": "left", "baseline": "middle", "dx": 7, "color": "black"},
              "encoding": {
                "y": {"field": "p", "type": "quantitative", "axis": null},
                "text": {"field": "p", "type": "quantitative", "format": ".2f"}
              }
            },
            {
              "data": {"values": [{"p": 98211.9}]},
              "mark": {"type": "rect", "color": "#ff0000", "opacity": 1},
              "encoding": {
                "x": {"datum": 1.5, "type": "quantitative"},
                "x2": {"datum": 52},
                "y": {"datum": 98315.3, "type": "quantitative", "axis": null},
                "y2": {"datum": 98108.5}
              }
            },
            {
              "data": {"values": [{"p": 98211.9}]},
              "mark": {"type": "text", "color": "white", "align": "left", "baseline": "middle", "dx": 7},
              "encoding": {
                "y": {"field": "p", "type": "quantitative", "axis": null},
                "text": {"field": "p", "type": "quantitative", "format": ".2f"}
              }
            }
          ]
        }
      ],
      "spacing": 0,
      "bounds": "flush",
      "resolve": {"scale": {"x": "independent", "y": "shared"}}
    },
    {
      "width": 1218,
      "height": 102,
      "encoding": {
        "x": {
          "field": "k", "type": "quantitative", "title": null,
          "scale": {"domain": [0, 152.25], "nice": false, "zero": false, "padding": 0},
          "axis": {"values": [0,4,8,12,16,20,24,28,32,36,40,44,48,52,56,60,64,68,72,76,80,84,88,92,96,100,104,108,112,116,120,124,128,132,136,140,144,148,152], "grid": true, "labels": false, "ticks": false, "domain": false, "title": null}
        }
      },
      "layer": [
        {
          "data": {"values": [{"z": 0}]},
          "mark": {"type": "rule", "color": "#c8c8c8", "strokeDash": [3, 3], "strokeWidth": 1},
          "encoding": {
            "x": null,
            "y": {
              "field": "z", "type": "quantitative", "title": null,
              "scale": {"domain": [-5572.0, 4512.7], "nice": false, "zero": false, "padding": 0},
              "axis": {"orient": "right", "values": [4117.253, 0, -4978.571], "format": ".3f", "labelExpr": "replace(datum.label, '\u2212', '-')", "grid": false, "tickSize": 3, "labelPadding": 4, "labelOverlap": false, "title": null}
            }
          }
        },
        {
          "data": {"name": "ao"},
          "mark": {"type": "bar", "width": 3, "clip": true},
          "encoding": {
            "y": {"field": "v", "type": "quantitative"},
            "y2": {"datum": 0},
            "color": {"field": "d", "type": "nominal", "scale": {"domain": ["u", "d"], "range": ["#008000", "#ff0000"]}, "legend": null}
          }
        },
        {
          "data": {"values": [{}]},
          "mark": {"type": "text", "align": "left", "baseline": "top", "dx": 4, "dy": 4, "color": "black"},
          "encoding": {"x": {"datum": 0}, "y": {"datum": 4512.7}, "text": {"value": "AO 1262.438"}}
        }
      ]
    },
    {
      "width": 1218,
      "height": 101,
      "encoding": {
        "x": {
          "field": "k", "type": "quantitative", "title": null,
          "scale": {"domain": [0, 152.25], "nice": false, "zero": false, "padding": 0},
          "axis": {"values": [0,4,8,12,16,20,24,28,32,36,40,44,48,52,56,60,64,68,72,76,80,84,88,92,96,100,104,108,112,116,120,124,128,132,136,140,144,148,152], "grid": true, "labels": false, "ticks": false, "domain": false, "title": null}
        }
      },
      "layer": [
        {
          "data": {"values": [{"z": 0}]},
          "mark": {"type": "rule", "color": "#c8c8c8", "strokeDash": [3, 3], "strokeWidth": 1},
          "encoding": {
            "x": null,
            "y": {
              "field": "z", "type": "quantitative", "title": null,
              "scale": {"domain": [-1578.7, 1913.9], "nice": false, "zero": false, "padding": 0},
              "axis": {"orient": "right", "values": [1706.4274, 0, -1405.6497], "format": ".4f", "labelExpr": "replace(datum.label, '\u2212', '-')", "grid": false, "tickSize": 3, "labelPadding": 4, "labelOverlap": false, "title": null}
            }
          }
        },
        {
          "data": {"name": "ac"},
          "mark": {"type": "bar", "width": 3, "clip": true},
          "encoding": {
            "y": {"field": "v", "type": "quantitative"},
            "y2": {"datum": 0},
            "color": {"field": "d", "type": "nominal", "scale": {"domain": ["u", "d"], "range": ["#008000", "#ff0000"]}, "legend": null}
          }
        },
        {
          "data": {"values": [{}]},
          "mark": {"type": "text", "align": "left", "baseline": "top", "dx": 4, "dy": 4, "color": "black"},
          "encoding": {"x": {"datum": 0}, "y": {"datum": 1913.9}, "text": {"value": "AC -177.0669"}}
        }
      ]
    },
    {
      "width": 1218,
      "height": 84,
      "encoding": {
        "x": {
          "field": "k", "type": "quantitative", "title": null,
          "scale": {"domain": [0, 152.25], "nice": false, "zero": false, "padding": 0},
          "axis": {
            "orient": "bottom",
            "values": [0,4,8,12,16,20,24,28,32,36,40,44,48,52,56,60,64,68,72,76,80,84,88,92,96,100,104,108,112,116,120,124,128,132,136,140,144,148,152],
            "grid": true, "domain": false, "title": null,
            "ticks": true, "tickSize": 5,
            "tickColor": {"condition": {"test": "datum.value % 8 === 0 && datum.value <= 136", "value": "#000000"}, "value": "transparent"},
            "labelAlign": "left", "labelPadding": 1, "labelOffset": 1, "labelOverlap": false, "labelFlush": false, "labelBound": false,
            "labelExpr": "(datum.value % 8 === 0 && datum.value <= 136) ? ['19 Dec 2024','20 Dec 06:00','20 Dec 14:00','20 Dec 22:00','21 Dec 06:00','21 Dec 14:00','21 Dec 22:00','22 Dec 06:00','22 Dec 14:00','22 Dec 22:00','23 Dec 06:00','23 Dec 14:00','23 Dec 22:00','24 Dec 06:00','24 Dec 14:00','24 Dec 22:00','25 Dec 06:00','25 Dec 14:00'][datum.value / 8] : ''"
          }
        }
      },
      "layer": [
        {
          "data": {"values": [{"z": 0}]},
          "mark": {"type": "rule", "color": "#c8c8c8", "strokeDash": [3, 3], "strokeWidth": 1},
          "encoding": {
            "x": null,
            "y": {
              "field": "z", "type": "quantitative", "title": null,
              "scale": {"domain": [-2503.6, 2811.1], "nice": false, "zero": false, "padding": 0},
              "axis": {"orient": "right", "values": [2494.795, 0, -2123.886], "format": ".3f", "labelExpr": "replace(datum.label, '\u2212', '-')", "grid": false, "tickSize": 3, "labelPadding": 4, "labelOverlap": false, "title": null}
            }
          }
        },
        {
          "data": {"name": "gator"},
          "mark": {"type": "bar", "width": 3, "clip": true},
          "encoding": {
            "y": {"field": "u", "type": "quantitative"},
            "y2": {"datum": 0},
            "color": {"field": "uc", "type": "nominal", "scale": {"domain": ["u", "d"], "range": ["#008000", "#ff0000"]}, "legend": null}
          }
        },
        {
          "data": {"name": "gator"},
          "mark": {"type": "bar", "width": 3, "clip": true},
          "encoding": {
            "y": {"field": "l", "type": "quantitative"},
            "y2": {"datum": 0},
            "color": {"field": "lc", "type": "nominal", "scale": {"domain": ["u", "d"], "range": ["#008000", "#ff0000"]}, "legend": null}
          }
        },
        {
          "data": {"values": [{}]},
          "mark": {"type": "text", "align": "left", "baseline": "top", "dx": 4, "dy": 4, "color": "black"},
          "encoding": {"x": {"datum": 0}, "y": {"datum": 2811.1}, "text": {"value": "Gator(13,8,5) 562.394 0.000"}}
        }
      ]
    }
  ]
}
